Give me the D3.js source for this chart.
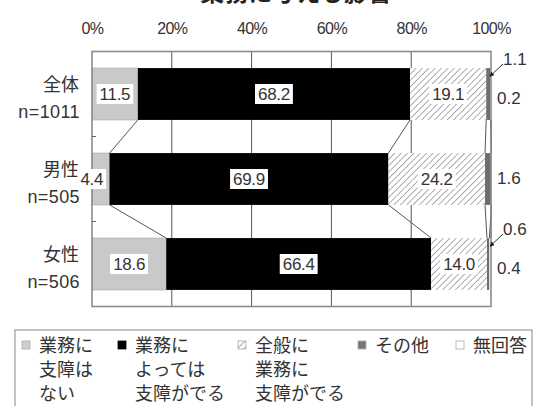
<!DOCTYPE html>
<html>
<head>
<meta charset="utf-8">
<script src="https://cdn.jsdelivr.net/npm/d3@7"></script>
<style>
  html, body { margin: 0; padding: 0; background: #fff; }
  svg { display: block; }
</style>
</head>
<body>
<svg id="chart" width="534" height="406"></svg>
<script>
// Survey: how the issue affects work, by respondent group (percent)
const title = "業務に与える影響";
const categories = ["全体", "男性", "女性"];
const sampleSizes = ["n=1011", "n=505", "n=506"];
const seriesKeys = ["noImpact", "partialImpact", "overallImpact", "other", "noAnswer"];
const legendLines = [
  ["業務に", "支障は", "ない"],
  ["業務に", "よっては", "支障がでる"],
  ["全般に", "業務に", "支障がでる"],
  ["その他"],
  ["無回答"]
];
const noImpact      = [11.5, 4.4, 18.6];
const partialImpact = [68.2, 69.9, 66.4];
const overallImpact = [19.1, 24.2, 14.0];
const other         = [1.1, 1.6, 0.6];
const noAnswer      = [0.2, 0, 0.4];
const xTicks = [0, 20, 40, 60, 80, 100];

const seriesValues = { noImpact, partialImpact, overallImpact, other, noAnswer };

const svg = d3.select("#chart");
const numFont = "'Liberation Sans', Arial, sans-serif";
const jpFont = "'Noto Sans CJK JP', sans-serif";
const textColor = "#333";

// hatch pattern for 全般に業務に支障がでる
const defs = svg.append("defs");
const pat = defs.append("pattern")
  .attr("id", "hatch").attr("patternUnits", "userSpaceOnUse")
  .attr("width", 4.5).attr("height", 4.5)
  .attr("patternTransform", "rotate(45)");
pat.append("rect").attr("width", 4.5).attr("height", 4.5).attr("fill", "#fff");
pat.append("line").attr("x1", 0).attr("y1", 0).attr("x2", 0).attr("y2", 4.5)
  .attr("stroke", "#6a6a6a").attr("stroke-width", 1.1);
defs.append("marker").attr("id", "arrow")
  .attr("viewBox", "0 0 6 6").attr("refX", 5).attr("refY", 3)
  .attr("markerWidth", 5).attr("markerHeight", 5).attr("orient", "auto")
  .append("path").attr("d", "M0,0L6,3L0,6Z").attr("fill", "#222");

const fills = {
  noImpact: "#c9c9c9",
  partialImpact: "#000",
  overallImpact: "url(#hatch)",
  other: "#6e6e6e",
  noAnswer: "#fff"
};

const plot = { left: 92, right: 491, top: 51.5, bottom: 306.5 };
const x = d3.scaleLinear().domain([0, 100]).range([plot.left, plot.right]);
const y = d3.scaleBand().domain(categories)
  .range([plot.top, plot.bottom]).paddingInner(0.39).paddingOuter(0.195);

// title (top partly outside the page)
svg.append("text")
  .attr("x", 296).attr("y", 1)
  .attr("text-anchor", "middle")
  .attr("font-family", jpFont).attr("font-weight", "bold")
  .attr("font-size", 24).attr("fill", "#222")
  .text(title);

// top axis labels
const xAxis = d3.axisTop(x).tickValues(xTicks).tickSize(0).tickPadding(0)
  .tickFormat(d => d + "%");
const axG = svg.append("g").attr("transform", `translate(0,${plot.top - 18})`).call(xAxis);
axG.select(".domain").remove();
axG.selectAll("text")
  .attr("font-family", numFont).attr("font-size", 16)
  .attr("letter-spacing", "-0.6").attr("fill", textColor)
  .attr("dy", 0);

// gridlines
svg.append("g").selectAll("line")
  .data(xTicks.slice(1, -1)).join("line")
  .attr("x1", d => x(d)).attr("x2", d => x(d))
  .attr("y1", plot.top).attr("y2", plot.bottom)
  .attr("stroke", "#555").attr("stroke-width", 1);

// stacked data
const rows = categories.map((c, i) => {
  const r = { category: c };
  seriesKeys.forEach(k => r[k] = seriesValues[k][i]);
  return r;
});
const stacked = d3.stack().keys(seriesKeys)(rows);

// series lines between adjacent bars
const seriesLines = [];
stacked.forEach(layer => {
  for (let i = 0; i < categories.length - 1; i++) {
    seriesLines.push({
      x1: x(layer[i][1]), y1: y(categories[i]) + y.bandwidth(),
      x2: x(layer[i + 1][1]), y2: y(categories[i + 1])
    });
  }
});
svg.append("g").selectAll("line").data(seriesLines).join("line")
  .attr("x1", d => d.x1).attr("y1", d => d.y1)
  .attr("x2", d => d.x2).attr("y2", d => d.y2)
  .attr("stroke", "#555").attr("stroke-width", 1);

// bars
const barG = svg.append("g");
stacked.forEach(layer => {
  barG.append("g").selectAll("rect").data(layer).join("rect")
    .attr("x", d => x(d[0]))
    .attr("width", d => Math.max(0, x(d[1]) - x(d[0])))
    .attr("y", d => y(d.data.category))
    .attr("height", y.bandwidth())
    .attr("fill", fills[layer.key])
    .attr("stroke", layer.key === "noImpact" ? "#b0b0b0" : "none")
    .attr("stroke-width", 0.8);
});

// plot frame
svg.append("rect")
  .attr("x", plot.left).attr("y", plot.top)
  .attr("width", plot.right - plot.left).attr("height", plot.bottom - plot.top)
  .attr("fill", "none").attr("stroke", "#8c8c8c").attr("stroke-width", 1.6);

// category boundary ticks on the left axis
const bounds = categories.slice(1).map(c => y(c) - y.step() * y.paddingInner() / 2);
svg.append("g").selectAll("line").data(bounds).join("line")
  .attr("x1", plot.left).attr("x2", plot.left + 4)
  .attr("y1", d => d).attr("y2", d => d)
  .attr("stroke", "#666").attr("stroke-width", 1);

// category labels
const catG = svg.append("g");
categories.forEach((c, i) => {
  const cy = y(c) + y.bandwidth() / 2;
  catG.append("text").attr("x", 79).attr("y", cy - 3)
    .attr("text-anchor", "end").attr("font-family", jpFont)
    .attr("font-size", 18).attr("fill", textColor).text(c);
  catG.append("text").attr("x", 80).attr("y", cy + 24)
    .attr("text-anchor", "end").attr("font-family", numFont)
    .attr("font-size", 18).attr("letter-spacing", "0.4").attr("fill", textColor)
    .text(sampleSizes[i]);
});

// value labels inside bars (white boxes)
const inLabelG = svg.append("g");
stacked.slice(0, 3).forEach(layer => {
  layer.forEach(d => {
    const v = d.data[layer.key];
    const cy = y(d.data.category) + y.bandwidth() / 2;
    let cx = (x(d[0]) + x(d[1])) / 2;
    if (x(d[1]) - x(d[0]) < 25) cx -= 9; // narrow segment: shift label left
    const t = inLabelG.append("text")
      .attr("x", cx).attr("y", cy + 6)
      .attr("text-anchor", "middle").attr("font-family", numFont)
      .attr("font-size", 17).attr("letter-spacing", "-0.3").attr("fill", textColor)
      .text(v.toFixed(1));
    const bb = t.node().getBBox();
    inLabelG.insert("rect", () => t.node())
      .attr("x", bb.x - 3).attr("y", cy - 10)
      .attr("width", bb.width + 6).attr("height", 20)
      .attr("fill", "#fff");
  });
});

// small-value labels on the right
const rightG = svg.append("g");
categories.forEach((c, i) => {
  const top = y(c), cy = top + y.bandwidth() / 2;
  const hasNoAnswer = noAnswer[i] > 0;
  if (hasNoAnswer) {
    rightG.append("text").attr("x", 503).attr("y", top - 3)
      .attr("font-family", numFont).attr("font-size", 17)
      .attr("fill", textColor).text(other[i].toFixed(1));
    rightG.append("line")
      .attr("x1", 503).attr("y1", top - 4)
      .attr("x2", x(100 - noAnswer[i] - other[i] / 2) + 2).attr("y2", top + 8)
      .attr("stroke", "#333").attr("stroke-width", 1)
      .attr("marker-end", "url(#arrow)");
    rightG.append("text").attr("x", 497).attr("y", cy + 10)
      .attr("font-family", numFont).attr("font-size", 17)
      .attr("fill", textColor).text(noAnswer[i].toFixed(1));
  } else {
    rightG.append("text").attr("x", 497).attr("y", cy + 5)
      .attr("font-family", numFont).attr("font-size", 17)
      .attr("fill", textColor).text(other[i].toFixed(1));
  }
});

// legend
svg.append("rect")
  .attr("x", 15).attr("y", 330).attr("width", 517).attr("height", 90)
  .attr("fill", "#fff").attr("stroke", "#999").attr("stroke-width", 1.2);
const legendX = [22, 118, 238, 358, 456];
const legendFill = ["#d0d0d0", "#000", "url(#hatch)", "#777", "#fff"];
const legG = svg.append("g");
seriesKeys.forEach((k, i) => {
  legG.append("rect")
    .attr("x", legendX[i]).attr("y", 341).attr("width", 8).attr("height", 8)
    .attr("fill", legendFill[i])
    .attr("stroke", i === 1 ? "#000" : "#aaa").attr("stroke-width", 0.8);
  legendLines[i].forEach((line, j) => {
    legG.append("text")
      .attr("x", legendX[i] + 17).attr("y", 352 + j * 24)
      .attr("font-family", jpFont).attr("font-size", 18)
      .attr("fill", textColor).text(line);
  });
});
</script>
</body>
</html>
